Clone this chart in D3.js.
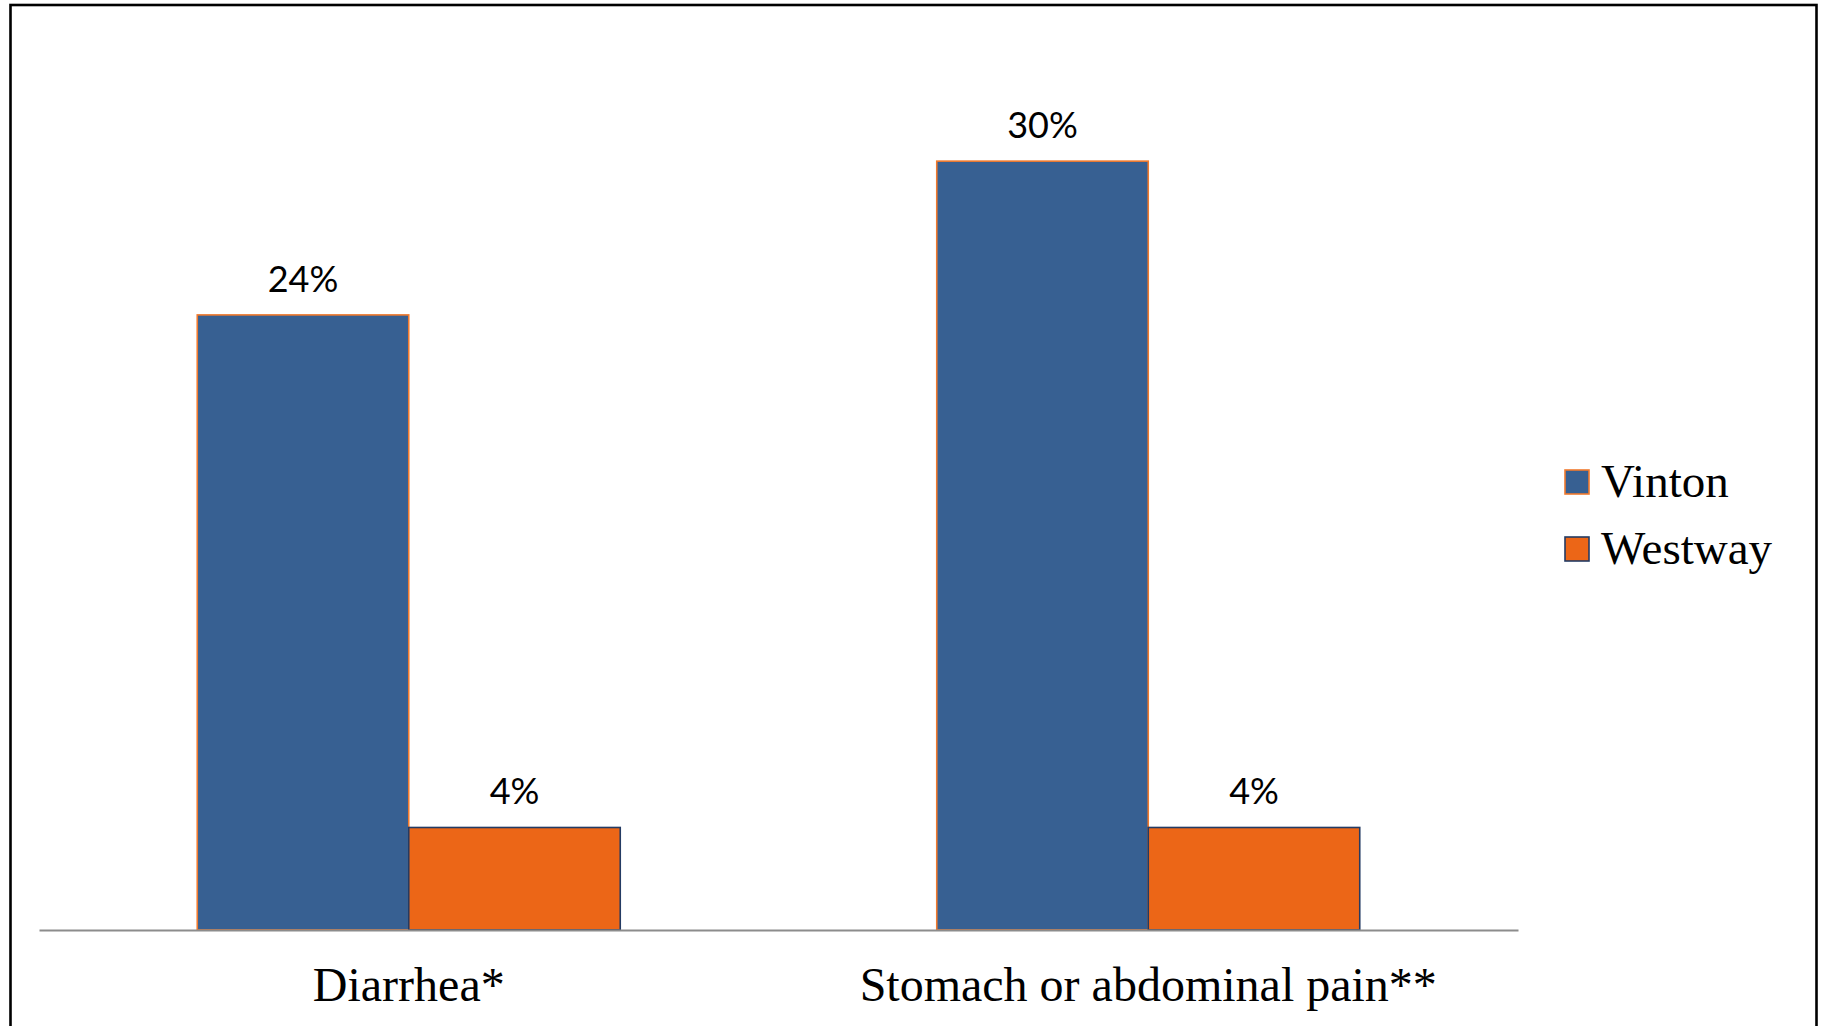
<!DOCTYPE html>
<html>
<head>
<meta charset="utf-8">
<script src="https://cdn.jsdelivr.net/npm/d3@7"></script>
<style>
  html, body { margin: 0; padding: 0; background: #fff; }
  svg { display: block; }
</style>
</head>
<body>
<svg id="chart" width="1821" height="1026"></svg>
<script>
// Share of respondents reporting each symptom, by community
const categories = ["Diarrhea*", "Stomach or abdominal pain**"];
const seriesNames = ["Vinton", "Westway"];
const vinton = [24, 30];
const westway = [4, 4];
const valueLabels = [["24%", "4%"], ["30%", "4%"]];

const fills = { Vinton: "#376092", Westway: "#EC6617" };
const strokes = { Vinton: "#F07A2E", Westway: "#243B63" };

const svg = d3.select("#chart");

// Outer frame
svg.append("rect")
  .attr("x", 10.5).attr("y", 5)
  .attr("width", 1806).attr("height", 1040)
  .attr("fill", "none").attr("stroke", "#000").attr("stroke-width", 2.6);

const plot = { left: 39, right: 1518, base: 930, top: 33 };

const x0 = d3.scaleBand()
  .domain(categories)
  .range([plot.left, plot.right])
  .paddingInner(0.428)
  .paddingOuter(0.214);

const x1 = d3.scaleBand()
  .domain(seriesNames)
  .range([0, x0.bandwidth()]);

const y = d3.scaleLinear()
  .domain([0, 35])
  .range([plot.base, plot.top]);

const rows = categories.map((c, i) => ({
  cat: c,
  vals: [
    { s: "Vinton", v: vinton[i], label: valueLabels[i][0] },
    { s: "Westway", v: westway[i], label: valueLabels[i][1] }
  ]
}));

const groups = svg.append("g").selectAll("g")
  .data(rows).join("g")
  .attr("transform", d => `translate(${x0(d.cat)},0)`);

groups.selectAll("rect")
  .data(d => d.vals).join("rect")
  .attr("x", d => x1(d.s))
  .attr("y", d => y(d.v))
  .attr("width", x1.bandwidth())
  .attr("height", d => y(0) - y(d.v))
  .attr("fill", d => fills[d.s])
  .attr("stroke", d => strokes[d.s])
  .attr("stroke-width", 1.6);

groups.selectAll("text.value")
  .data(d => d.vals).join("text")
  .attr("class", "value")
  .attr("x", d => x1(d.s) + x1.bandwidth() / 2)
  .attr("y", d => y(d.v) - 23)
  .attr("text-anchor", "middle")
  .attr("font-family", "Lato, 'Open Sans', sans-serif")
  .attr("font-size", 36)
  .attr("fill", "#000")
  .text(d => d.label);

// Category axis
const xAxis = svg.append("g")
  .attr("transform", `translate(0,${plot.base})`)
  .call(d3.axisBottom(x0).tickSize(0).tickPadding(71).tickSizeOuter(0));
xAxis.select(".domain")
  .attr("stroke", "#8C8C8C").attr("stroke-width", 2.2);
xAxis.selectAll(".tick text")
  .attr("font-family", "'Liberation Serif', 'Times New Roman', serif")
  .attr("font-size", 48)
  .attr("fill", "#000")
  .attr("dy", 0);

// Legend
const legend = svg.append("g").attr("transform", "translate(1565,470)");
const item = legend.selectAll("g")
  .data(seriesNames).join("g")
  .attr("transform", (d, i) => `translate(0,${i * 67})`);
item.append("rect")
  .attr("width", 24).attr("height", 24)
  .attr("fill", d => fills[d])
  .attr("stroke", d => strokes[d])
  .attr("stroke-width", 1.6);
item.append("text")
  .attr("x", 36).attr("y", 27)
  .attr("font-family", "'Liberation Serif', 'Times New Roman', serif")
  .attr("font-size", 47)
  .attr("fill", "#000")
  .text(d => d);
</script>
</body>
</html>
